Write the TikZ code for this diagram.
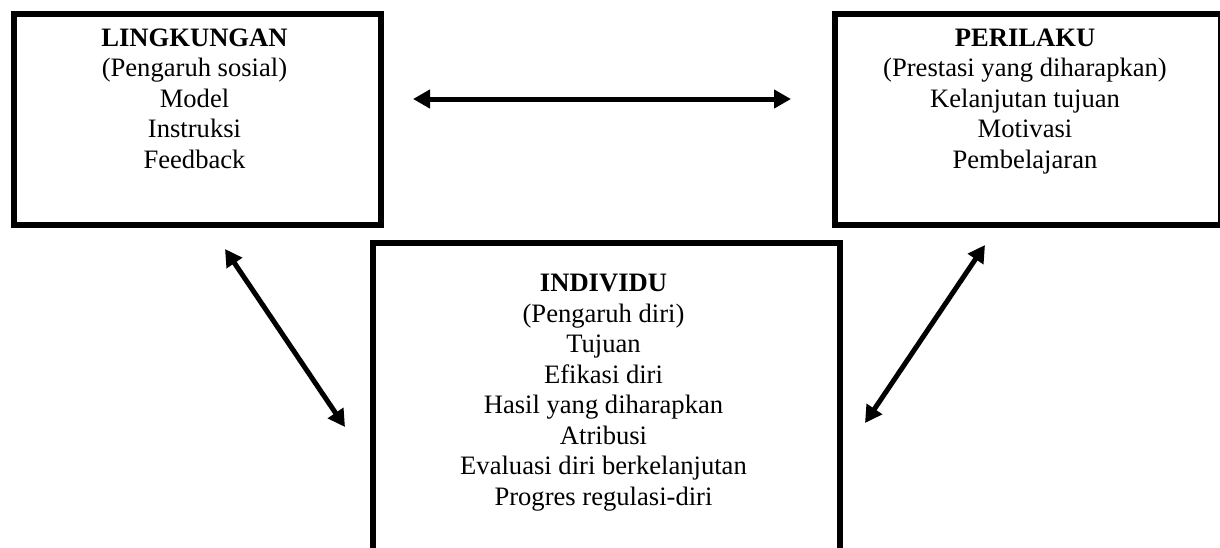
\documentclass[tikz,border=0pt]{standalone}
\usepackage{fontspec}
\setmainfont{Liberation Serif}
\usetikzlibrary{arrows.meta}
\tikzset{
  box/.style={draw=black, line width=6pt, rectangle, inner sep=0pt, fill=none},
  txt/.style={align=center, inner sep=0pt, font=\fontsize{26.6}{30.5}\selectfont},
  link/.style={line width=5pt, {Triangle[length=17pt,width=18pt]}-{Triangle[length=17pt,width=18pt]}}
}
\begin{document}
\begin{tikzpicture}[x=1pt,y=-1pt]
\clip (0,0) rectangle (1220,547);
\useasboundingbox (0,0) rectangle (1220,547);
\fill[white] (0,0) rectangle (1220,547);
% boxes
\node[box, minimum width=367pt, minimum height=211pt, anchor=north west] (L) at (11,11) {};
\node[box, minimum width=386pt, minimum height=211pt, anchor=north west] (P) at (832,11) {};
\node[box, minimum width=467pt, minimum height=330pt, anchor=north west] (I) at (370,240) {};
% texts (base anchor = baseline of the last line)
\node[txt, anchor=base] (Lt) at (194.5,168) {\textbf{LINGKUNGAN}\\(Pengaruh sosial)\\Model\\Instruksi\\Feedback};
\node[txt, anchor=base] (Pt) at (1025,168) {\textbf{PERILAKU}\\(Prestasi yang diharapkan)\\Kelanjutan tujuan\\Motivasi\\Pembelajaran};
\node[txt, anchor=base] (It) at (603.5,505) {\textbf{INDIVIDU}\\(Pengaruh diri)\\Tujuan\\Efikasi diri\\Hasil yang diharapkan\\Atribusi\\Evaluasi diri berkelanjutan\\Progres regulasi-diri};
% arrow ends
\coordinate (LP1) at (413,99);
\coordinate (LP2) at (791,99);
\coordinate (LI1) at (225,249);
\coordinate (LI2) at (345,427);
\coordinate (PI1) at (985,245);
\coordinate (PI2) at (865,423);
\draw[link] (LP1) -- (LP2);
\draw[link] (LI1) -- (LI2);
\draw[link] (PI1) -- (PI2);
\end{tikzpicture}
\end{document}
